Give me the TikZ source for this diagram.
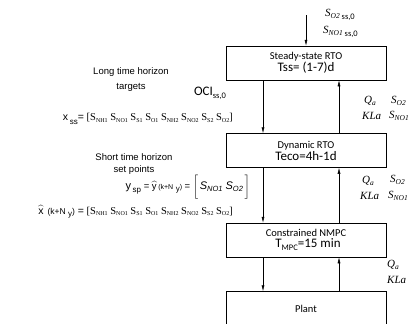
\documentclass[tikz,border=0pt]{standalone}
\usepackage{fontspec}
\setmainfont{Liberation Serif}
\newfontfamily\arialf{Liberation Sans}
\newfontfamily\calibf{Carlito}
\usetikzlibrary{arrows.meta,positioning}
% variable names
\newcommand{\Sit}[1]{\textit{S}\raisebox{-0.35ex}{\fontsize{7.5}{8}\selectfont\textit{#1}}}
\newcommand{\Srm}[1]{S\raisebox{-0.3ex}{\fontsize{6}{6}\selectfont #1}}
\newcommand{\Ssub}[1]{\raisebox{-0.6ex}{\arialf\fontsize{8}{8}\selectfont #1}}
\newcommand{\Csub}[1]{\raisebox{-0.45ex}{\calibf\fontsize{8.5}{9}\selectfont #1}}
\newcommand{\Qa}{\textit{Q\raisebox{-0.3ex}{\fontsize{7.5}{8}\selectfont a}}}
\begin{document}
\begin{tikzpicture}[x=1pt,y=-1pt,
   box/.style={draw,line width=0.5pt,minimum width=160pt,minimum height=34pt,
               inner sep=1pt,align=center,font=\calibf},
   arr/.style={-{Latex[length=6pt,width=3pt]},line width=0.5pt},
   lbl/.style={inner sep=0pt,font=\arialf\fontsize{9.5}{15}\selectfont,align=center},
   var/.style={inner sep=0pt,anchor=west,font=\fontsize{11}{12}\selectfont}]
  \clip (0,0) rectangle (410,324);
  \useasboundingbox (0,0) rectangle (410,324);
  % blocks
  \node[box] (ss) at (306,63)
    {{\fontsize{10.5}{11}\selectfont Steady-state RTO}\\[0pt]{\fontsize{13}{14}\selectfont Tss= (1-7)d}};
  \node[box,below=53pt of ss] (dyn)
    {{\fontsize{10.5}{11}\selectfont Dynamic RTO}\\[0pt]{\fontsize{13}{14}\selectfont Teco=4h-1d}};
  \node[box,below=55pt of dyn] (mpc)
    {{\fontsize{10.5}{11}\selectfont Constrained NMPC}\\[-1pt]{\fontsize{13}{14}\selectfont\hspace*{4pt}T\Csub{MPC}=15 min}};
  \node[box,below=34pt of mpc,font=\calibf\fontsize{10.5}{11}\selectfont] (plant) {Plant};
  % connectors
  \coordinate (in) at (306,15);
  \draw[arr] (in) -- (ss.north);
  \draw[arr] ([xshift=-43pt]ss.south) -- ([xshift=-43pt]dyn.north);
  \draw[arr] ([xshift=33pt]dyn.north) -- ([xshift=33pt]ss.south);
  \draw[arr] ([xshift=-43pt]dyn.south) -- ([xshift=-43pt]mpc.north);
  \draw[arr] ([xshift=33pt]mpc.north) -- ([xshift=33pt]dyn.south);
  \draw[arr] ([xshift=-43pt]mpc.south) -- ([xshift=-43pt]plant.north);
  \draw[arr] ([xshift=33pt]plant.north) -- ([xshift=33pt]mpc.south);
  % top inputs
  \node[var] (so2in) at (325,15) {\Sit{O2}\,\Csub{ss,0}};
  \node[var] (snoin) at (323,32) {\Sit{NO1}\,\Csub{ss,0}};
  % left texts
  \node[lbl] (long) at (131,80) {Long time horizon\\targets};
  \node[lbl,font=\calibf\fontsize{13}{14}\selectfont] (oci) at (210,93) {OCI\Csub{ss,0}};
  \node[lbl,font=\fontsize{10.5}{11}\selectfont,anchor=east] (xss) at (233,119)
    {{\arialf\fontsize{10.5}{11}\selectfont x\,\Ssub{ss}=} [\Srm{NH1} \Srm{NO1} \Srm{S1} \Srm{O1} \Srm{NH2} \Srm{NO2} \Srm{S2} \Srm{O2}]};
  \node[lbl,font=\arialf\fontsize{9.5}{12.5}\selectfont] (short) at (134,164) {Short time horizon\\set points};
  \node[lbl,anchor=east] (ysp) at (250,187)
    {{\fontsize{11}{12}\selectfont y}\,\Ssub{sp} = $\widehat{\mbox{y}}$\,{\fontsize{7}{8}\selectfont (k+N\hspace{2.5pt}\Ssub{y})} =
     $\bigg[$\,{\fontsize{11}{12}\selectfont\Sit{NO1}\ \Sit{O2}}\,$\bigg]$};
  \node[lbl,font=\fontsize{10.5}{11}\selectfont,anchor=east] (xhat) at (233,212)
    {{\arialf\fontsize{10.5}{11}\selectfont $\widehat{\mbox{x}}$\hspace{4pt}{\fontsize{8.5}{9}\selectfont (k+N\hspace{2.5pt}\Ssub{y})} =} [\Srm{NH1} \Srm{NO1} \Srm{S1} \Srm{O1} \Srm{NH2} \Srm{NO2} \Srm{S2} \Srm{O2}]};
  % right inputs
  \node[var] (qa1) at (364,101) {\Qa};
  \node[var] (kla1) at (362,116) {\textit{KLa}};
  \node[var] (so21) at (391,101) {\Sit{O2}};
  \node[var] (sno1) at (389,116) {\Sit{NO1}};
  \node[var] (qa2) at (362,181) {\Qa};
  \node[var] (kla2) at (360,196) {\textit{KLa}};
  \node[var] (so22) at (390,180) {\Sit{O2}};
  \node[var] (sno2) at (388,196) {\Sit{NO1}};
  \node[var] (qa3) at (387,265) {\Qa};
  \node[var] (kla3) at (387,280) {\textit{KLa}};
\end{tikzpicture}
\end{document}
